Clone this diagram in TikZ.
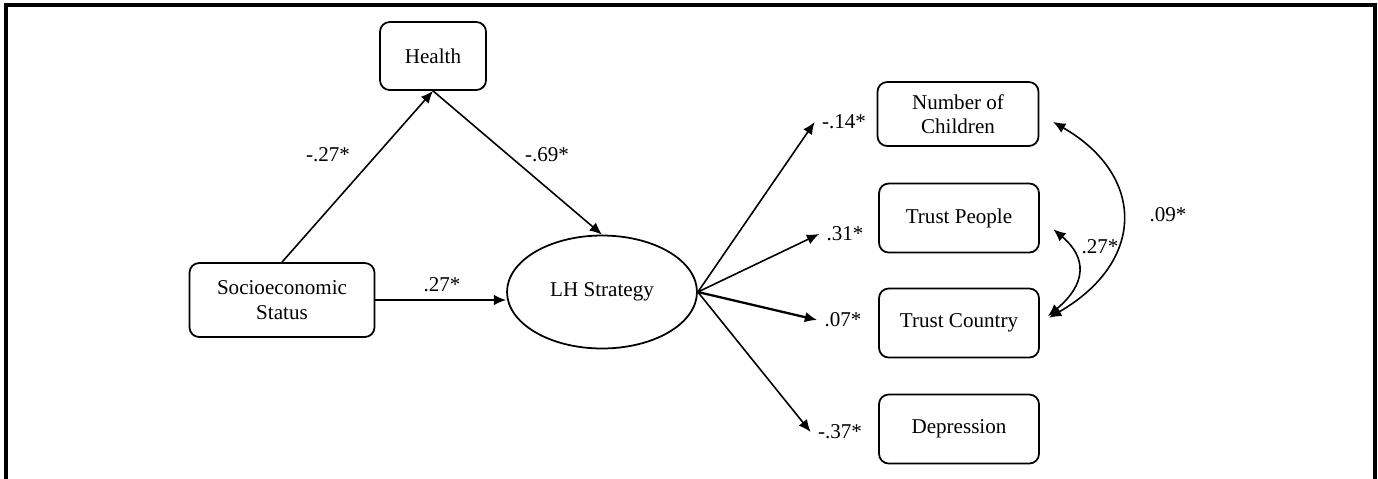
\documentclass[tikz,border=0pt]{standalone}
\usepackage{fontspec}
\setmainfont{Liberation Serif}
\usepackage{tikz}
\usetikzlibrary{arrows.meta,shapes.geometric}

\tikzset{
  >={Latex[length=7pt,width=6pt]},
  obs/.style={draw,rounded corners=5.5pt,line width=1pt,inner sep=0pt,align=center},
  lat/.style={draw,ellipse,line width=1pt,inner sep=0pt,minimum width=3.8cm,minimum height=2.26cm},
  path/.style={->,line width=0.9pt},
  coef/.style={inner sep=4pt}
}

\begin{document}
\begin{tikzpicture}[x=0.02cm,y=-0.02cm,font=\fontsize{12}{14}\selectfont]
          \useasboundingbox (0,0) rectangle (1378,478);
          % frame, open at the bottom
          \draw[line width=2pt] (6,490)--(6,5)--(1375,5)--(1375,490);

          \node[obs,minimum width=2.12cm,minimum height=1.36cm] (health) at (433,56) {Health};
          \node[obs,minimum width=3.7cm,minimum height=1.48cm] (ses) at (282,300) {Socioeconomic\\Status};
          \node[lat] (lh) at (602,292) {LH Strategy};

          \node[obs,minimum width=3.22cm,minimum height=1.28cm] (kids) at (958,114) {Number of\\Children};
          \node[obs,minimum width=3.2cm,minimum height=1.38cm] (tpeople) at (959,218) {Trust People};
          \node[obs,minimum width=3.2cm,minimum height=1.38cm] (tcountry) at (959,323) {Trust Country};
          \node[obs,minimum width=3.2cm,minimum height=1.38cm] (depr) at (959,429) {Depression};

          \node[coef] (cKids) at (844,122) {-.14*};
          \node[coef] (cPeople) at (845,234) {.31*};
          \node[coef] (cCountry) at (843,320) {.07*};
          \node[coef] (cDepr) at (840,432) {-.37*};

          \draw[path] (ses.north) -- (health.south);
          \node (cSH) at (328,155) {-.27*};
          \draw[path] (health.south) -- (lh.north);
          \node (cHL) at (547,155) {-.69*};
          \draw[path] (ses.east) -- (ses.east -| lh.west);
          \node (cSL) at (442,285) {.27*};

          \draw[path] (lh.east) -- (cKids.west);
          \draw[path] (lh.east) -- (cPeople.west);
          \draw[path,line width=1.3pt] (lh.east) -- (cCountry.west);
          \draw[path] (lh.east) -- (cDepr.west);

          % residual covariances
          \draw[<->,line width=0.9pt,shorten <=9pt,shorten >=6pt] (kids.east) to[out=-30,in=30,looseness=1.5] (tcountry.east);
          \draw[<->,line width=0.9pt,shorten <=10pt,shorten >=6pt] (tpeople.east) to[out=-40,in=40,looseness=1.5] (tcountry.east);
          \node (cKC) at (1168,215) {.09*};
          \node (cPC) at (1100,247) {.27*};
\end{tikzpicture}
\end{document}
